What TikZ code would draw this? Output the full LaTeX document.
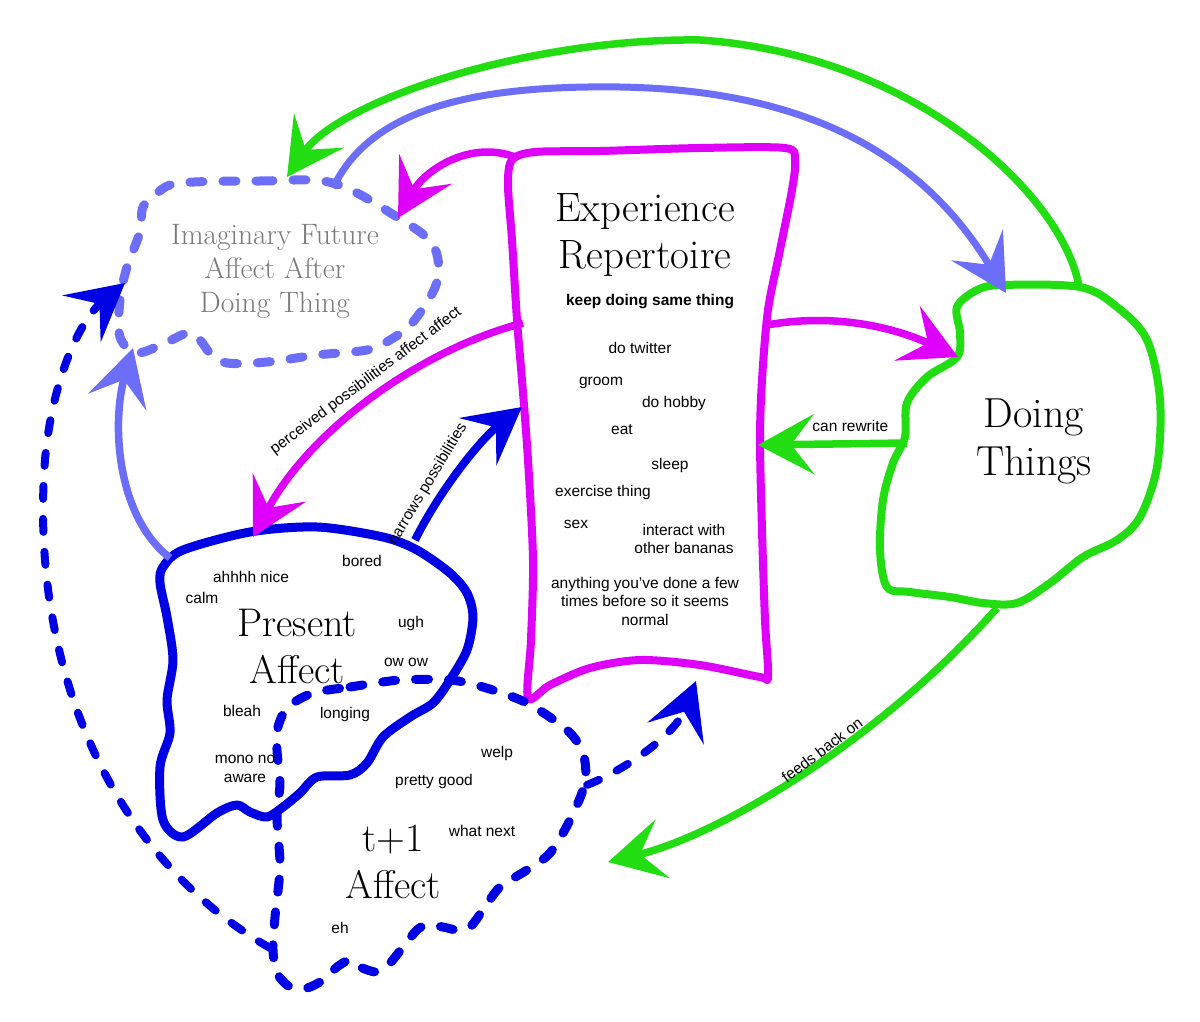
\documentclass[tikz,border=0pt]{standalone}
\usepackage{fontspec}
\setsansfont{Liberation Sans}
\usetikzlibrary{arrows.meta}
\definecolor{mag}{RGB}{222,0,250}
\definecolor{grn}{RGB}{34,221,17}
\definecolor{dblue}{RGB}{0,0,228}
\definecolor{lblue}{RGB}{108,110,250}
\definecolor{lgray}{RGB}{122,122,122}
\tikzset{
  bigtip/.style={-{Stealth[length=56pt,width=60pt,inset=23pt]}},
  smalltxt/.style={font=\sffamily\fontsize{15.5}{18.5}\selectfont, align=center, inner sep=0pt, text=black},
  boldtxt/.style={font=\sffamily\bfseries\fontsize{15.5}{18.5}\selectfont, align=center, inner sep=0pt, text=black},
  bigtxt/.style={font=\fontsize{40}{47}\selectfont, align=center, inner sep=0pt, text=black},
  imtxt/.style={font=\fontsize{29.5}{34}\selectfont, align=center, inner sep=0pt, text=lgray},
  dashline/.style={dash pattern=on 13pt off 20pt, line cap=round},
  blobline/.style={line width=8.5pt, line join=round},
}
\begin{document}
\begin{tikzpicture}[x=1pt,y=-1pt]
\useasboundingbox (0,0) rectangle (1200,1022);
\fill[white] (0,0) rectangle (1200,1022);

% ---------- shapes ----------
% Imaginary future cloud
\draw[lblue, line width=9pt, dashline] plot[smooth cycle, tension=0.55] coordinates {
 (180,183) (260,181) (333,183) (397,217) (433,245) (437,282) (413,322) (390,340)
 (367,350) (317,355) (267,362) (227,363) (210,353) (200,340) (188,333) (167,342)
 (137,353) (120,337) (120,300) (127,267) (140,232) (143,207) (157,193)};
% Experience repertoire box
\draw[mag, blobline, line width=8pt] plot[smooth cycle, tension=0.5] coordinates {
 (512,160) (535,152) (600,151) (700,148) (785,148) (795,160) (792,190) (780,250)
 (768,310) (762,380) (760,440) (762,530) (765,620) (768,676) (760,677) (700,665)
 (640,660) (590,668) (550,685) (528,698) (531,640) (533,560) (528,460) (522,380)
 (517,320) (512,240) (508,185)};
% Doing things blob
\draw[grn, blobline, line width=8pt] plot[smooth cycle, tension=0.55] coordinates {
 (1003,285) (1080,287) (1117,307) (1147,340) (1160,400) (1157,467) (1140,517)
 (1117,540) (1083,557) (1050,583) (1017,603) (983,603) (950,597) (910,592)
 (887,587) (880,550) (883,500) (893,463) (905,437) (907,403) (927,377) (957,357)
 (960,333) (957,307) (977,290)};
% Present affect blob
\draw[dblue, blobline, line width=9pt] plot[smooth cycle, tension=0.5] coordinates {
 (183,550) (250,532) (317,527) (383,537) (417,550) (450,573) (467,593) (473,617)
 (467,650) (450,680) (433,703) (410,717) (383,737) (367,763) (350,775) (317,777)
 (300,793) (283,807) (267,817) (250,812) (237,805) (217,813) (183,837) (163,820)
 (160,767) (170,733) (167,700) (173,660) (167,617) (160,583) (163,567)};
% t+1 affect cloud
\draw[dblue, line width=9pt, dashline] plot[smooth cycle, tension=0.5] coordinates {
 (313,693) (350,687) (400,680) (450,680) (483,687) (527,703) (567,730) (583,753)
 (585,783) (570,820) (550,853) (527,870) (500,887) (483,910) (470,927) (457,930)
 (443,927) (427,925) (417,930) (403,947) (390,963) (377,972) (360,967) (350,960)
 (337,967) (323,980) (307,988) (290,987) (277,973) (273,950) (275,917) (280,867)
 (277,817) (280,783) (277,750) (278,727) (288,707)};

% ---------- texts ----------
\node[imtxt] (imf) at (275,271) {Imaginary Future\\Affect After\\Doing Thing};
\node[bigtxt, font=\fontsize{41}{47}\selectfont] (er) at (645,235) {Experience\\Repertoire};
\node[boldtxt] (keep) at (650,302) {keep doing same thing};
\node[smalltxt] (tw) at (640,348) {do twitter};
\node[smalltxt] (gr) at (601,383) {groom};
\node[smalltxt] (hb) at (674,403) {do hobby};
\node[smalltxt] (eat) at (622,430) {eat};
\node[smalltxt] (sl) at (670,465) {sleep};
\node[smalltxt] (ex) at (603,492) {exercise thing};
\node[smalltxt] (sx) at (576,524) {sex};
\node[smalltxt] (ia) at (684,539) {interact with\\other bananas};
\node[smalltxt] (any) at (645,601) {anything you’ve done a few\\times before so it seems\\normal};
\node[bigtxt, font=\fontsize{42}{48}\selectfont] (dt) at (1034,441) {Doing\\Things};
\node[bigtxt] (pa) at (297,646) {Present\\Affect};
\node[bigtxt] (ta) at (393,862) {t+1\\Affect};
\node[smalltxt] at (362,561) {bored};
\node[smalltxt] at (251,577) {ahhhh nice};
\node[smalltxt] at (202,598) {calm};
\node[smalltxt] at (411,623) {ugh};
\node[smalltxt] at (406,662) {ow ow};
\node[smalltxt] at (242,711) {bleah};
\node[smalltxt] at (345,714) {longing};
\node[smalltxt] at (245,769) {mono no\\aware};
\node[smalltxt] at (497,753) {welp};
\node[smalltxt] at (434,781) {pretty good};
\node[smalltxt] at (482,831) {what next};
\node[smalltxt] at (340,928) {eh};

% ---------- attachment points ----------
\coordinate (imfTop) at (333,188);
\coordinate (imfTip) at (287,177);
\coordinate (imfRight) at (398,218);
\coordinate (imfBL) at (133,348);
\coordinate (imfL) at (125,283);
\coordinate (dtTop) at (1079,287);
\coordinate (dtTip) at (1006,293);
\coordinate (dtLeft) at (907,443);
\coordinate (dtNotch) at (958,357);
\coordinate (dtBot) at (997,608);
\coordinate (erTL) at (515,157);
\coordinate (erL) at (523,323);
\coordinate (erLtip) at (522,407);
\coordinate (erR) at (767,325);
\coordinate (erRtip) at (758,445);
\coordinate (erBot) at (696,681);
\coordinate (paTop) at (253,537);
\coordinate (paTopR) at (415,540);
\coordinate (paTL) at (170,558);
\coordinate (taL) at (270,948);
\coordinate (taR) at (587,785);
\coordinate (taTip) at (608,862);

% ---------- connectors ----------
\draw[grn, line width=7.5pt, bigtip] (dtTop) .. controls (1065,200) and (920,55) .. (700,40)
   .. controls (530,38) and (340,100) .. (imfTip);
\draw[lblue, line width=7pt, bigtip] (imfTop) .. controls (370,110) and (470,85) .. (620,87)
   .. controls (800,90) and (920,150) .. (dtTip);
\draw[mag, line width=7.5pt, bigtip] (erTL) .. controls (470,140) and (425,170) .. (imfRight);
\draw[mag, line width=7.5pt, bigtip] (erR) .. controls (840,312) and (900,330) .. (dtNotch);
\draw[grn, line width=7.5pt, bigtip] (dtLeft) -- node[smalltxt, above=8pt, pos=0.38] {can rewrite} (erRtip);
\draw[grn, line width=7.5pt, bigtip] (dtBot) .. controls (880,740) and (720,835) .. (taTip);
\node[smalltxt, rotate=37] at (822,750) {feeds back on};
\draw[mag, line width=7.5pt, bigtip] (erL) .. controls (420,350) and (310,430) .. (paTop);
\node[smalltxt, rotate=37] at (366,381) {perceived possibilities affect affect};
\draw[dblue, line width=8pt, bigtip] (paTopR) .. controls (440,490) and (480,440) .. (erLtip);
\node[smalltxt, rotate=59] at (428,484) {narrows possibilities};
\draw[lblue, line width=7.5pt, bigtip] (paTL) .. controls (115,515) and (112,420) .. (imfBL);
\draw[dblue, line width=8pt, dashline, bigtip] (taL) .. controls (100,850) and (30,650) .. (45,460)
   .. controls (52,380) and (80,320) .. (imfL);
\draw[dblue, line width=8pt, dashline, bigtip] (taR) .. controls (625,770) and (675,735) .. (erBot);
\end{tikzpicture}
\end{document}
